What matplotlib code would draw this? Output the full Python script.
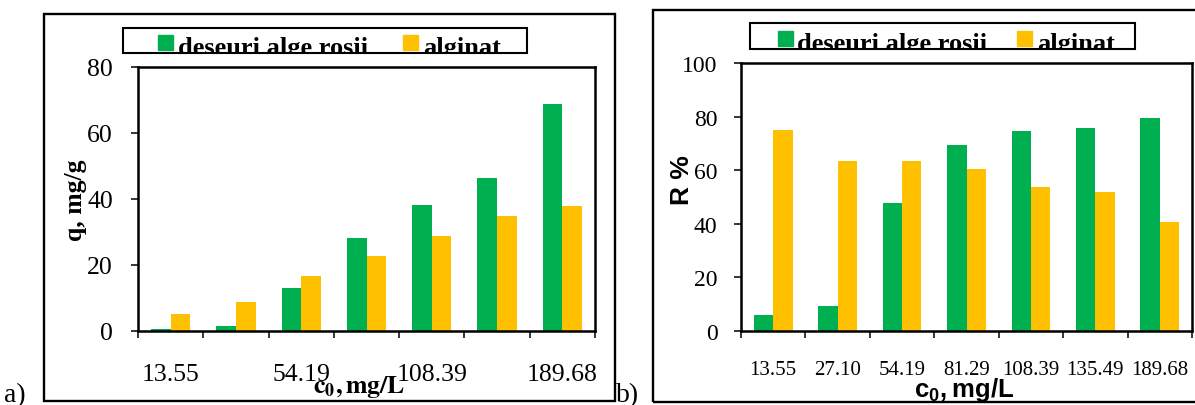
import matplotlib
matplotlib.use("Agg")
import matplotlib.pyplot as plt
import numpy as np
from matplotlib.patches import Rectangle
from matplotlib.transforms import Bbox, TransformedBbox

# concentrations c0 (mg/L)
conc = ["13.55", "27.10", "54.19", "81.29", "108.39", "135.49", "189.68"]
# a) sorption capacity q, mg/g
q_alge = [0.7, 1.4, 12.9, 28.3, 38.3, 46.5, 68.9]
q_alginat = [5.2, 8.9, 16.8, 22.8, 28.8, 34.9, 37.8]
# b) removal efficiency R, %
r_alge = [6.1, 9.2, 47.9, 69.5, 74.6, 75.8, 79.5]
r_alginat = [74.9, 63.5, 63.3, 60.3, 53.7, 51.7, 40.8]
series_names = ["deseuri alge rosii", "alginat"]

GREEN = "#00B050"
YELLOW = "#FFC000"
SERIF = "Liberation Serif"
SANS = "Liberation Sans"

W, H = 1195, 406
plt.rcParams["mathtext.bf"] = "Liberation Sans:bold"
fig = plt.figure(figsize=(W / 100, H / 100), dpi=100)


def fx(px):
    return px / W


def fy(py):
    return 1 - py / H


def box(x0, y0, x1, y1, lw):
    fig.patches.append(Rectangle((fx(x0), fy(y1)), fx(x1) - fx(x0), fy(y0) - fy(y1),
                                 transform=fig.transFigure, fill=False,
                                 edgecolor="black", linewidth=lw))


def legend(x0, y0, x1, y1, sq_x, sq2_x, txt_x, txt2_x, sq_y):
    box(x0, y0, x1, y1, 1.5)
    clip = TransformedBbox(Bbox.from_extents(fx(x0), fy(y1 - 1.5), fx(x1), fy(y0)),
                           fig.transFigure)
    for sx, tx, col, name in [(sq_x, txt_x, GREEN, series_names[0]),
                              (sq2_x, txt2_x, YELLOW, series_names[1])]:
        fig.patches.append(Rectangle((fx(sx), fy(sq_y + 15)), 15 / W, 15 / H,
                                     transform=fig.transFigure, color=col))
        t = fig.text(fx(tx), fy(y1 + 0.5), name, family=SERIF, weight="bold",
                     fontsize=19, va="baseline", ha="left")
        t.set_clip_box(clip)


def bars(ax, green, yellow):
    x = np.arange(len(conc))
    ax.bar(x - 0.15, green, width=0.3, color=GREEN)
    ax.bar(x + 0.15, yellow, width=0.3, color=YELLOW)
    ax.set_xlim(-0.5, len(conc) - 0.5)
    ax.set_xticks(np.arange(-0.5, len(conc), 1))
    ax.set_xticklabels([])
    ax.tick_params(axis="x", which="major", direction="out", length=5, width=1.1)
    ax.tick_params(axis="y", direction="out", length=5, width=1.1)
    for s in ax.spines.values():
        s.set_linewidth(1.8)
    return x


# ---- a) q, mg/g ----
ax1 = fig.add_axes([fx(138), fy(332), fx(595) - fx(138), fy(68) - fy(332)])
x = bars(ax1, q_alge, q_alginat)
ax1.set_ylim(0, 80)
ax1.set_yticks(range(0, 81, 20))
ax1.set_xticks(x[::2], minor=True)
ax1.set_xticklabels([conc[i] for i in x[::2]], minor=True, family=SERIF, fontsize=18.5)
ax1.tick_params(axis="x", which="minor", length=0, pad=23)
ax1.tick_params(axis="y", pad=13)
for lab in ax1.get_yticklabels():
    lab.set_family(SERIF)
    lab.set_fontsize(18.5)
ax1.set_xlabel(r"$\mathbf{c_0,mg/L}$", fontsize=18.5, math_fontfamily="stix")
ax1.xaxis.label.set_va("baseline")
ax1.xaxis.set_label_coords(0.4836, -0.231)
ax1.set_ylabel("q, mg/g", family=SERIF, weight="bold", fontsize=18.5, va="center")
ax1.yaxis.set_label_coords(-0.136, 0.5)

# ---- b) R % ----
ax2 = fig.add_axes([fx(741), fy(332), fx(1192) - fx(741), fy(64) - fy(332)])
x = bars(ax2, r_alge, r_alginat)
ax2.set_ylim(0, 100)
ax2.set_yticks(range(0, 101, 20))
ax2.set_xticks(x, minor=True)
ax2.set_xticklabels(conc, minor=True, family=SERIF, fontsize=15)
ax2.tick_params(axis="x", which="minor", length=0, pad=21)
ax2.tick_params(axis="y", pad=12)
for lab in ax2.get_yticklabels():
    lab.set_family(SERIF)
    lab.set_fontsize(17)
ax2.set_xlabel(r"$\mathbf{c_0,mg/L}$", fontsize=18.5, math_fontfamily="custom")
ax2.xaxis.label.set_va("baseline")
ax2.xaxis.set_label_coords(0.494, -0.2425)
ax2.set_ylabel("R %", family=SANS, weight="bold", fontsize=19, va="center")
ax2.yaxis.set_label_coords(-0.131, 0.567)

# frames and legends
box(44, 15, 615, 402, 1.7)
box(653, 11, 1200, 403, 1.7)
legend(123, 29, 527, 54, 158, 403, 178, 423, 36)
legend(750, 24, 1135, 50, 778, 1017, 797, 1037, 32)

fig.text(fx(4), fy(402), "a)", family=SERIF, fontsize=20, va="baseline")
fig.text(fx(616), fy(402), "b)", family=SERIF, fontsize=20, va="baseline")

fig.savefig("out.png", dpi=100)
